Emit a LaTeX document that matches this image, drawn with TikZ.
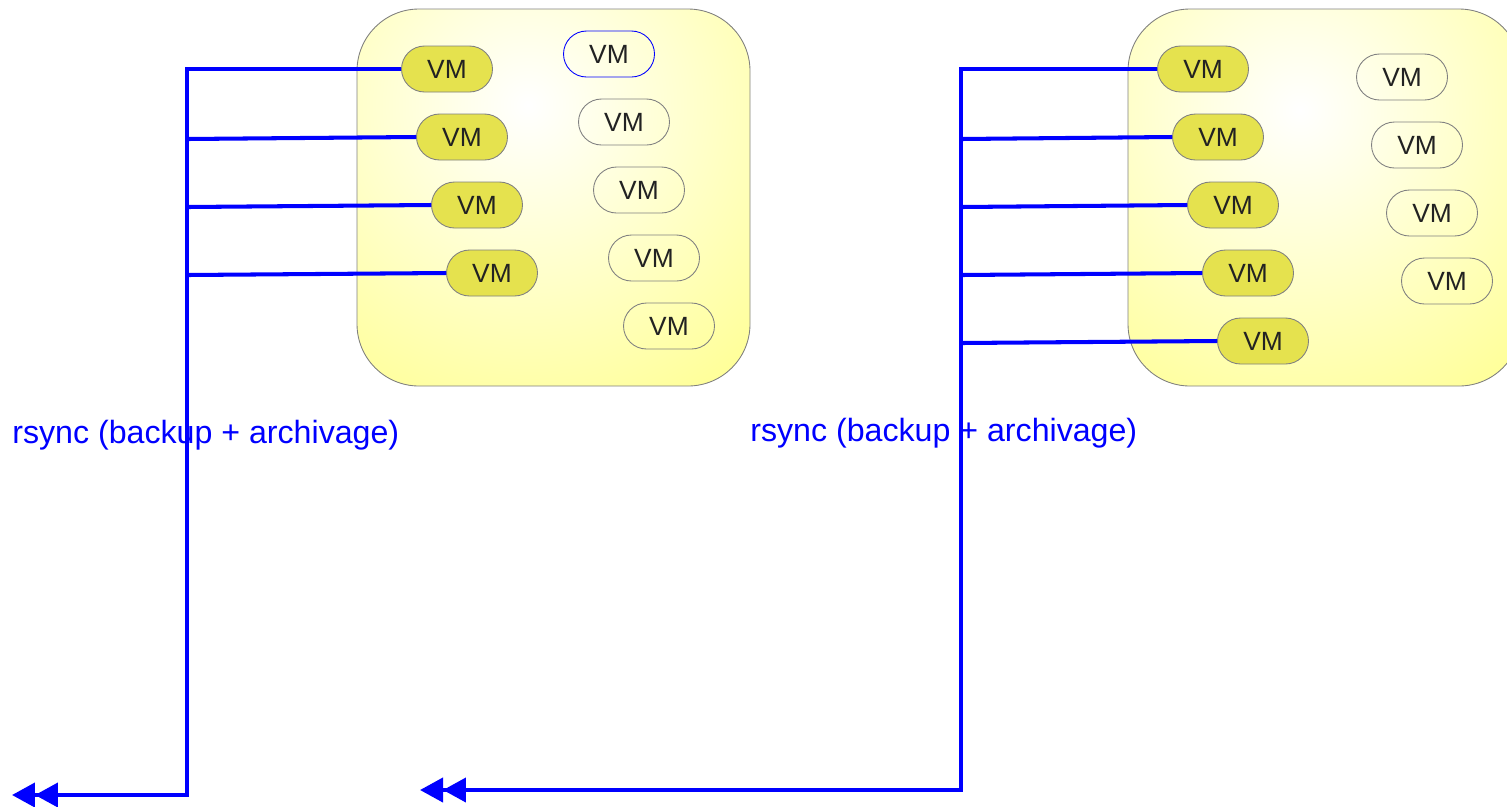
\documentclass[tikz,border=0pt]{standalone}
\usepackage{fontspec}
\setmainfont{Liberation Sans}
\usetikzlibrary{arrows.meta}
\definecolor{hostyellow}{RGB}{255,255,145}
\definecolor{vmolive}{RGB}{229,226,78}
\definecolor{vmtext}{RGB}{34,34,34}
\definecolor{rimgray}{RGB}{128,128,128}

\begin{document}
\begin{tikzpicture}[x=0.02cm, y=-0.02cm,
		host/.style={draw=rimgray, line width=0.5pt, rounded corners=1.24cm},
		glow/.style={inner color=white, outer color=hostyellow},
		vm/.style={draw=rimgray, line width=0.5pt, rounded corners=0.46cm, minimum width=1.82cm, minimum height=0.92cm, inner sep=0pt, text=vmtext, font=\fontsize{15}{16}\selectfont},
		vmon/.style={vm, fill=vmolive},
		rsync/.style={draw=blue, line width=2.3pt},
		rsynctip/.style={-{Triangle[length=0.46cm,width=0.48cm] Triangle[length=0.46cm,width=0.48cm]}},
		rsynclabel/.style={anchor=base west, inner sep=0pt, text=blue, font=\fontsize{18.3}{20}\selectfont}]
	\clip (0,0) rectangle (1507,806);

	%%left host
	\begin{scope}
		\clip[rounded corners=1.24cm] (357,9) rectangle (750,386);
		\fill[hostyellow] (357,9) rectangle (750,386);
		\shade[glow] (528,105) circle[radius=7.2cm];
	\end{scope}
	\draw[host] (357,9) rectangle (750,386);
	\node[vmon] (vmA1) at (447,69) {VM};
	\node[vmon] (vmA2) at (462,137) {VM};
	\node[vmon] (vmA3) at (477,205) {VM};
	\node[vmon] (vmA4) at (492,273) {VM};
	\node[vm, draw=blue] (idleA1) at (609,54) {VM};
	\node[vm] (idleA2) at (624,122) {VM};
	\node[vm] (idleA3) at (639,190) {VM};
	\node[vm] (idleA4) at (654,258) {VM};
	\node[vm] (idleA5) at (669,326) {VM};

	%%right host
	\begin{scope}
		\clip[rounded corners=1.24cm] (1128,9) rectangle (1521,386);
		\fill[hostyellow] (1128,9) rectangle (1521,386);
		\shade[glow] (1300,110) circle[radius=7.2cm];
	\end{scope}
	\draw[host] (1128,9) rectangle (1521,386);
	\node[vmon] (vmB1) at (1203,69) {VM};
	\node[vmon] (vmB2) at (1218,137) {VM};
	\node[vmon] (vmB3) at (1233,205) {VM};
	\node[vmon] (vmB4) at (1248,273) {VM};
	\node[vmon] (vmB5) at (1263,341) {VM};
	\node[vm] (idleB1) at (1402,77) {VM};
	\node[vm] (idleB2) at (1417,145) {VM};
	\node[vm] (idleB3) at (1432,213) {VM};
	\node[vm] (idleB4) at (1447,281) {VM};

	%%labels
	\node[rsynclabel] (labelA) at (12,443) {rsync (backup + archivage)};
	\node[rsynclabel] (labelB) at (750,441) {rsync (backup + archivage)};

	%%left rsync route
	\coordinate (busA) at (187,69);
	\coordinate (busAfoot) at (187,795);
	\coordinate (sinkA) at (12,795);
	\coordinate (tapA2) at (187,139);
	\coordinate (tapA3) at (187,207);
	\coordinate (tapA4) at (187,275);
	\draw[rsync, rsynctip] (vmA1.west) -- (busA) -- (busAfoot) -- (sinkA);
	\draw[rsync] (tapA2) -- (vmA2.west);
	\draw[rsync] (tapA3) -- (vmA3.west);
	\draw[rsync] (tapA4) -- (vmA4.west);

	%%right rsync route
	\coordinate (busB) at (961,69);
	\coordinate (busBfoot) at (961,790);
	\coordinate (sinkB) at (420,790);
	\coordinate (tapB2) at (961,139);
	\coordinate (tapB3) at (961,207);
	\coordinate (tapB4) at (961,275);
	\coordinate (tapB5) at (961,343);
	\draw[rsync, rsynctip] (vmB1.west) -- (busB) -- (busBfoot) -- (sinkB);
	\draw[rsync] (tapB2) -- (vmB2.west);
	\draw[rsync] (tapB3) -- (vmB3.west);
	\draw[rsync] (tapB4) -- (vmB4.west);
	\draw[rsync] (tapB5) -- (vmB5.west);
\end{tikzpicture}
\end{document}
